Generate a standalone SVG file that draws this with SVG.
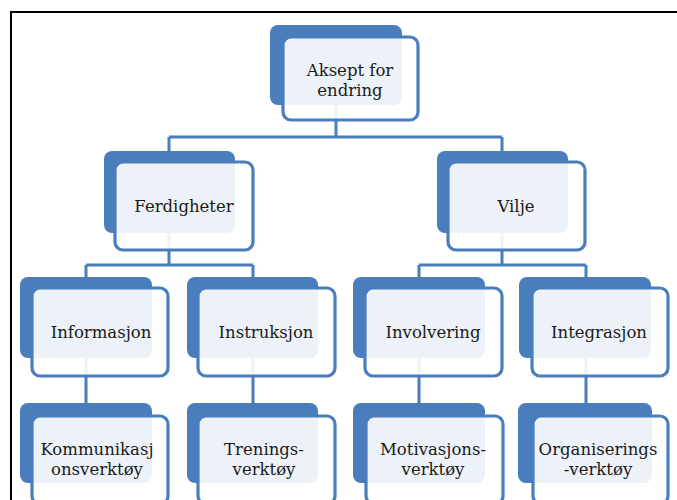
<svg xmlns="http://www.w3.org/2000/svg" width="677" height="500" viewBox="0 0 677 500">
<style>
.back{fill:#4A7DBC;}
.front{fill:#FFFFFF;fill-opacity:0.9;stroke:#4A7DBC;stroke-width:3.2;}
.conn{fill:none;stroke:#4A7DBC;stroke-width:3;}
text{font-family:"DejaVu Serif","Liberation Serif",serif;font-size:16.5px;fill:#1a1a1a;text-anchor:middle;}
.frame{fill:none;stroke:#000;stroke-width:2;}
</style>
<rect width="677" height="500" fill="#fff"/>
<path class="frame" d="M11 500 V12 H677"/>
<g id="connectors">
<path class="conn" d="M336 105 V137 M169 137 H502 M169 137 V151 M502 137 V151"/>
<path class="conn" d="M169 233 V265 M86 265 H253 M86 265 V277 M253 265 V277"/>
<path class="conn" d="M502 233 V265 M419 265 H586 M419 265 V277 M586 265 V277"/>
<path class="conn" d="M86 358 V403 M253 358 V403 M419 358 V403 M586 358 V403"/>
</g>
<g id="n-aksept">
<rect class="back" x="270" y="25" width="132" height="80" rx="8"/>
<rect class="front" x="283" y="37" width="135" height="83" rx="8"/>
<text x="350" y="76">Aksept for</text>
<text x="350" y="96">endring</text>
</g>
<g id="n-ferdigheter">
<rect class="back" x="104" y="151" width="131" height="82" rx="8"/>
<rect class="front" x="115" y="162" width="138" height="88" rx="8"/>
<text x="184" y="212">Ferdigheter</text>
</g>
<g id="n-vilje">
<rect class="back" x="437" y="151" width="131" height="82" rx="8"/>
<rect class="front" x="448" y="162" width="137" height="88" rx="8"/>
<text x="516" y="212">Vilje</text>
</g>
<g id="n-informasjon">
<rect class="back" x="20" y="277" width="132" height="81" rx="8"/>
<rect class="front" x="32" y="288" width="136" height="88" rx="8"/>
<text x="101" y="338">Informasjon</text>
</g>
<g id="n-instruksjon">
<rect class="back" x="187" y="277" width="131" height="81" rx="8"/>
<rect class="front" x="198" y="288" width="137" height="88" rx="8"/>
<text x="266" y="338">Instruksjon</text>
</g>
<g id="n-involvering">
<rect class="back" x="353" y="277" width="132" height="81" rx="8"/>
<rect class="front" x="365" y="288" width="137" height="88" rx="8"/>
<text x="433" y="338">Involvering</text>
</g>
<g id="n-integrasjon">
<rect class="back" x="519" y="277" width="132" height="81" rx="8"/>
<rect class="front" x="532" y="288" width="136" height="88" rx="8"/>
<text x="599" y="338">Integrasjon</text>
</g>
<g id="n-kommunikasjon">
<rect class="back" x="20" y="403" width="132" height="80" rx="8"/>
<rect class="front" x="32" y="416" width="136" height="88" rx="8"/>
<text x="97" y="455">Kommunikasj</text>
<text x="97" y="475">onsverktøy</text>
</g>
<g id="n-trenings">
<rect class="back" x="187" y="403" width="131" height="80" rx="8"/>
<rect class="front" x="198" y="416" width="137" height="88" rx="8"/>
<text x="264" y="455">Trenings-</text>
<text x="264" y="475">verktøy</text>
</g>
<g id="n-motivasjons">
<rect class="back" x="353" y="403" width="132" height="80" rx="8"/>
<rect class="front" x="366" y="416" width="137" height="88" rx="8"/>
<text x="433" y="455">Motivasjons-</text>
<text x="433" y="475">verktøy</text>
</g>
<g id="n-organiserings">
<rect class="back" x="518" y="403" width="134" height="80" rx="8"/>
<rect class="front" x="533" y="416" width="135" height="88" rx="8"/>
<text x="598" y="455">Organiserings</text>
<text x="598" y="475">-verktøy</text>
</g>
</svg>
